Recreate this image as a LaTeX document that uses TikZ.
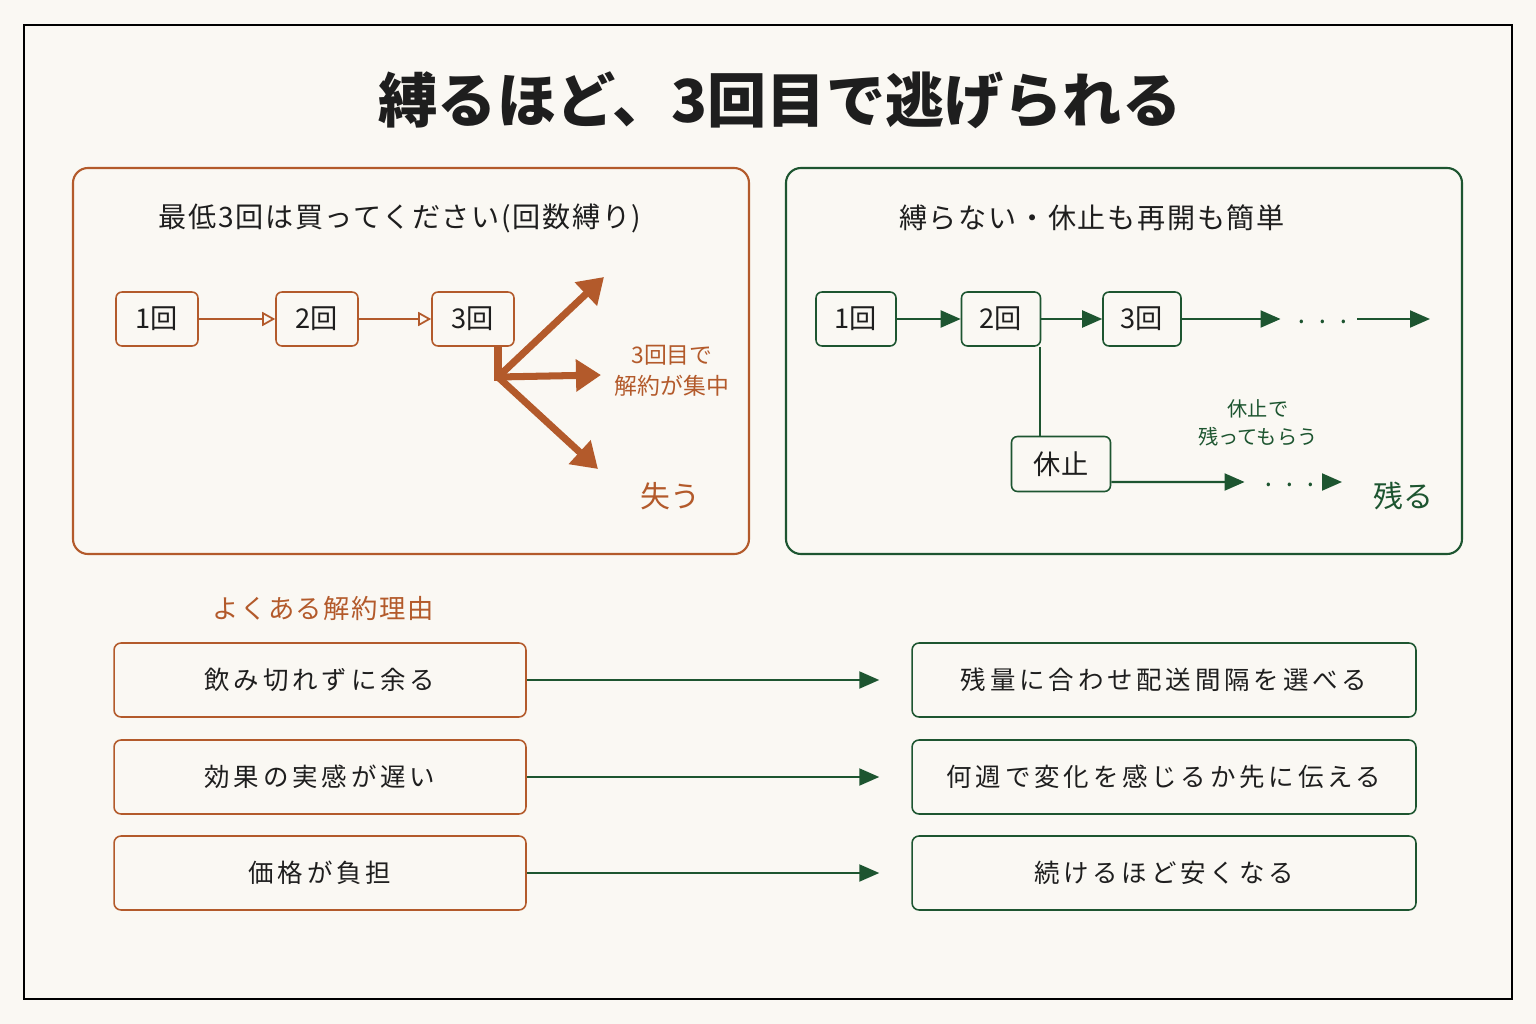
\documentclass[tikz,border=0pt]{standalone}
\usepackage{fontspec}
\setmainfont{Noto Sans CJK JP}
\newfontfamily\jpwide[LetterSpace=15]{Noto Sans CJK JP}
\newfontfamily\jphead[LetterSpace=6]{Noto Sans CJK JP}
\usetikzlibrary{arrows.meta, positioning}
\definecolor{paper}{HTML}{FAF8F3}
\definecolor{rust}{HTML}{B35A2B}
\definecolor{pine}{HTML}{1D5530}
\definecolor{ink}{HTML}{1E1E1E}

\begin{document}
\begin{tikzpicture}[x=0.02cm, y=-0.02cm, every node/.style={font=\fontsize{15}{18}\selectfont, text=ink},
  panel/.style={line width=1.2pt, rounded corners=0.3cm},
  heading/.style={font=\jphead\fontsize{16}{19}\selectfont},
  stepbox/.style={draw, line width=0.9pt, rounded corners=0.12cm, minimum width=1.64cm, minimum height=1.08cm, inner sep=0pt, font=\fontsize{15.5}{18}\selectfont},
  reasonbox/.style={draw=rust, line width=0.9pt, rounded corners=0.14cm, minimum width=8.24cm, minimum height=1.48cm, font=\jpwide\fontsize{14.5}{17}\selectfont},
  fixbox/.style={draw=pine, line width=0.9pt, rounded corners=0.14cm, minimum width=10.08cm, minimum height=1.48cm, font=\jpwide\fontsize{14.5}{17}\selectfont},
  openarrow/.style={-{Triangle[open, length=0.26cm, width=0.28cm]}, rust, line width=1pt},
  pinearrow/.style={-{Triangle[length=0.4cm, width=0.34cm]}, pine, line width=1.2pt},
  fanarrow/.style={-{Triangle[length=0.5cm, width=0.62cm]}, rust, line width=4pt}]
  % paper and frame
  \fill[paper] (0,0) rectangle (1536,1024);
  \draw[line width=1.1pt, black] (24,25) rectangle (1512,999);
  \node (title) at (780,100) {\fontsize{33.7}{38}\selectfont\bfseries 縛るほど、3回目で逃げられる};
  % left panel
  \draw[panel, rust] (73,168) rectangle (749,554);
  \node[heading] (lhead) at (400,218) {最低3回は買ってください(回数縛り)};
  \node[stepbox, draw=rust] (l1) at (157,319) {1回};
  \node[stepbox, draw=rust] (l2) at (317,319) {2回};
  \node[stepbox, draw=rust] (l3) at (473,319) {3回};
  \draw[openarrow] (l1) -- (l2);
  \draw[openarrow] (l2) -- (l3);
  \coordinate (fork) at (498,377);
  \coordinate (upend) at (604,277);
  \coordinate (midend) at (601,375);
  \coordinate (lowend) at (598,469);
  \draw[rust, line width=4pt] (l3.south -| fork) -- ([yshift=-0.07cm]fork);
  \draw[fanarrow] (fork) -- (upend);
  \draw[fanarrow] (fork) -- (midend);
  \draw[fanarrow] (fork) -- (lowend);
  \node[align=center, font=\fontsize{13}{17.5}\selectfont, text=rust] (peak) at (672,371) {3回目で\\解約が集中};
  \node[font=\fontsize{17}{20}\selectfont, text=rust] (lose) at (670,496) {失う};
  % right panel
  \draw[panel, pine] (786,168) rectangle (1462,554);
  \node[heading] (rhead) at (1092,218) {縛らない・休止も再開も簡単};
  \node[stepbox, draw=pine, minimum width=1.6cm] (r1) at (856,319) {1回};
  \node[stepbox, draw=pine, minimum width=1.58cm] (r2) at (1001,319) {2回};
  \node[stepbox, draw=pine, minimum width=1.56cm] (r3) at (1142,319) {3回};
  \node[inner sep=0pt, text=pine] (rdots) at (1323,326) {· · ·};
  \coordinate (rend) at (1430,319);
  \draw[pinearrow] (r1) -- (r2);
  \draw[pinearrow] (r2) -- (r3);
  \draw[pinearrow, shorten >=0.28cm] (r3) -- (rdots.west |- r3);
  \draw[pinearrow, shorten <=0.12cm] (rdots.east |- r3) -- (rend);
  \node[stepbox, draw=pine, minimum width=1.98cm, minimum height=1.1cm] (rest) at (1061,464) {休止};
  \draw[pine, line width=1.2pt] ([xshift=-0.02cm]r2.south east) -- ([xshift=-0.02cm]r2.south east |- rest.north);
  \node[inner sep=0pt, text=pine] (pdots) at (1290,489) {· · ·};
  \coordinate (pend) at (1342,482);
  \draw[pinearrow, shorten >=0.34cm] ([yshift=-0.36cm]rest.east) -- (pdots.west |- pend);
  \draw[pinearrow, shorten <=0.16cm] (pdots.east |- pend) -- (pend);
  \node[align=center, font=\fontsize{11.5}{16}\selectfont, text=pine] (keep) at (1258,423) {休止で\\残ってもらう};
  \node[font=\fontsize{17}{20}\selectfont, text=pine] (stay) at (1403,496) {残る};
  % reasons and fixes
  \node[anchor=west, font=\jphead\fontsize{15}{18}\selectfont, text=rust] (reasons) at (206,608) {よくある解約理由};
  \node[reasonbox] (why1) at (320,680) {飲み切れずに余る};
  \node[reasonbox] (why2) at (320,777) {効果の実感が遅い};
  \node[reasonbox] (why3) at (320,873) {価格が負担};
  \node[fixbox] (fix1) at (1164,680) {残量に合わせ配送間隔を選べる};
  \node[fixbox] (fix2) at (1164,777) {何週で変化を感じるか先に伝える};
  \node[fixbox] (fix3) at (1164,873) {続けるほど安くなる};
  \draw[pinearrow, shorten >=0.64cm] (why1) -- (fix1);
  \draw[pinearrow, shorten >=0.64cm] (why2) -- (fix2);
  \draw[pinearrow, shorten >=0.64cm] (why3) -- (fix3);
\end{tikzpicture}
\end{document}
